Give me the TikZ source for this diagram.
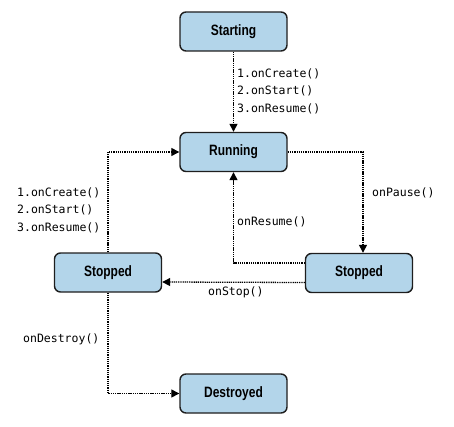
\documentclass[tikz,border=0pt]{standalone}
\usepackage{fontspec}
\setmainfont{Liberation Sans}
\newfontfamily\codefont{DejaVu Sans Mono}
\usetikzlibrary{arrows.meta}
\definecolor{boxfill}{HTML}{B3D5EA}
\definecolor{boxline}{HTML}{1E1E1E}
\tikzset{
  state/.style={draw=boxline, fill=boxfill, line width=1.4pt, rounded corners=6pt,
    minimum width=107pt, minimum height=39pt, inner sep=0pt,
    font=\fontsize{15}{17}\selectfont\bfseries},
  conn/.style={line width=1.3pt, dash pattern=on 1.3pt off 0.9pt, -{Triangle[length=8pt,width=8pt]}},
  lbl/.style={anchor=west, align=left, inner sep=0pt, font=\fontsize{11.5}{17.5}\selectfont\codefont}
}
\newcommand{\cnd}[1]{\scalebox{0.8}[1]{#1}}
\begin{document}
\begin{tikzpicture}[x=1pt,y=-1pt]
\useasboundingbox (0,0) rectangle (454,427);
\node[state] (starting) at (233.5,31.5) {\cnd{Starting}};
\node[state] (running) at (233.5,152) {\cnd{Running}};
\node[state] (stopL) at (108,272.5) {\cnd{Stopped}};
\node[state] (stopR) at (359,273) {\cnd{Stopped}};
\node[state] (destroyed) at (233.5,393.5) {\cnd{Destroyed}};

\draw[conn] (starting) -- (running);
\draw[conn] (running.east) -| ([xshift=4pt]stopR.north);
\draw[conn] ([yshift=10pt]stopR.west) -| (running.south);
\draw[conn] ([yshift=-9.5pt]stopR.west) -- ([yshift=-9.5pt]stopL.east);
\draw[conn] (stopL.north) |- (running.west);
\draw[conn] (stopL.south) |- (destroyed.west);

\node[lbl] (l1) at (237,91) {1.onCreate()\\2.onStart()\\3.onResume()};
\node[lbl] (l2) at (17,210) {1.onCreate()\\2.onStart()\\3.onResume()};
\node[lbl] (l3) at (372,193) {onPause()};
\node[lbl] (l4) at (237,222) {onResume()};
\node[lbl] (l5) at (208,292) {onStop()};
\node[lbl] (l6) at (23,339) {onDestroy()};
\end{tikzpicture}
\end{document}
